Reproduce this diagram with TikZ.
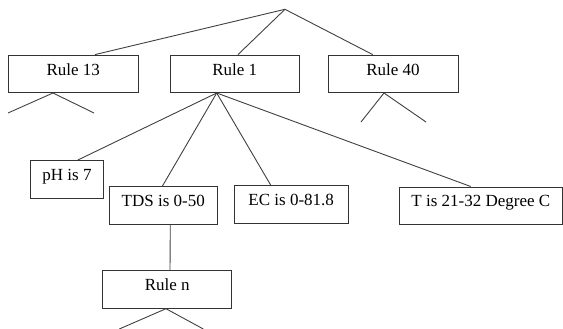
\documentclass[tikz,border=0pt]{standalone}
\usepackage{fontspec}
\setmainfont{Liberation Serif}
\begin{document}
\begin{tikzpicture}[x=1pt,y=-1pt,
    rulebox/.style={draw=black!80, line width=0.9pt, rectangle, inner sep=0pt,
      minimum height=37.5pt, text height=20pt, text depth=17.5pt,
      font=\fontsize{17}{20}\selectfont},
    branch/.style={draw=black!75, line width=0.9pt}]
      \useasboundingbox (0,0) rectangle (563,329);
      \coordinate (root) at (285,9.3);
      \draw
        (73.2,73.8) node[rulebox, minimum width=129.7pt] (r13){Rule 13}
        (234.7,73.8) node[rulebox, minimum width=129.3pt] (r1){Rule 1}
        (393,73.8) node[rulebox, minimum width=130pt] (r40){Rule 40}
        (67,179.3) node[rulebox, minimum width=72.6pt, minimum height=36.7pt] (ph){pH is 7}
        (163.3,205.5) node[rulebox, minimum width=108pt, minimum height=36.4pt] (tds){TDS is 0-50}
        (291.2,204.3) node[rulebox, minimum width=114.3pt, minimum height=36.7pt] (ec){EC is 0-81.8}
        (480.8,205.7) node[rulebox, minimum width=163.5pt, minimum height=36.7pt] (t){T is 21-32 Degree C}
        (167.2,289.5) node[rulebox, minimum width=129pt] (rn){Rule n};
      % loose ends below the collapsed rules
      \coordinate (r13a) at (8,113);
      \coordinate (r13b) at (94,113);
      \coordinate (r40a) at (361,122);
      \coordinate (r40b) at (426,122);
      \coordinate (rna) at (119.3,329);
      \coordinate (rnb) at (203.3,329);
      \begin{scope}[branch]
        \draw (root) to ([xshift=21.8pt]r13.north);
        \draw (root) to ([xshift=3.3pt]r1.north);
        \draw (root) to ([xshift=-20.3pt]r40.north);
        \draw ([xshift=-20.2pt]r13.south) to (r13a);
        \draw ([xshift=-20.2pt]r13.south) to (r13b);
        \draw ([xshift=-9pt]r40.south) to (r40a);
        \draw ([xshift=-9pt]r40.south) to (r40b);
        \draw ([xshift=-18pt]r1.south) to ([xshift=10.7pt]ph.north);
        \draw ([xshift=-18pt]r1.south) to ([xshift=-1pt]tds.north);
        \draw ([xshift=-18pt]r1.south) to ([xshift=-20.5pt]ec.north);
        \draw ([xshift=-18pt]r1.south) to ([xshift=-10.1pt]t.north);
        \draw ([xshift=7pt]tds.south) to ([xshift=2.8pt]rn.north);
        \draw ([xshift=-1.2pt]rn.south) to (rna);
        \draw ([xshift=-1.2pt]rn.south) to (rnb);
      \end{scope}
    \end{tikzpicture}
\end{document}
